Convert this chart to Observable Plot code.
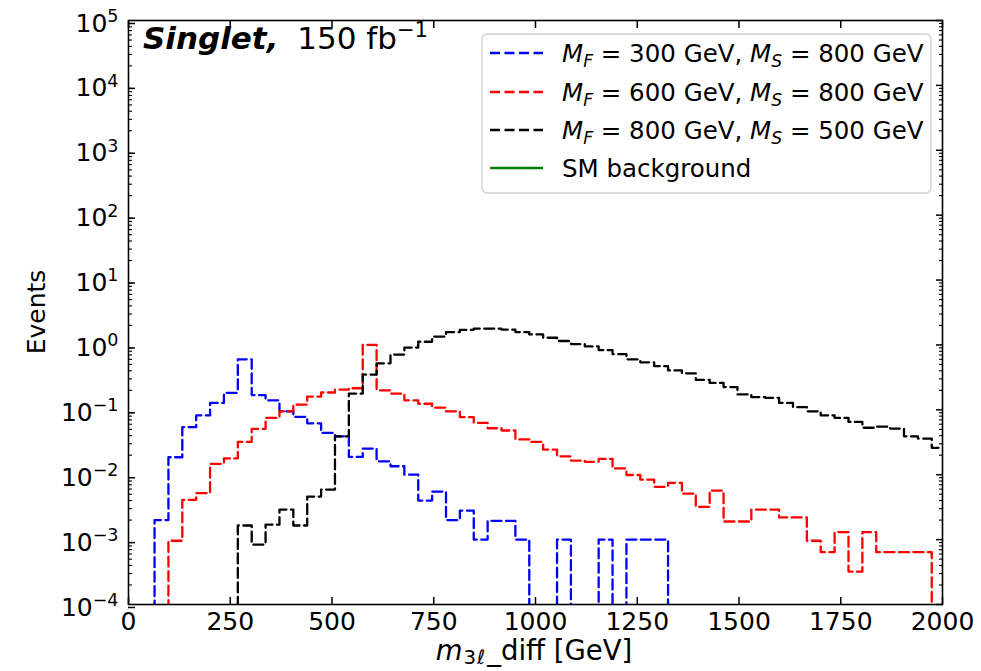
<!DOCTYPE html>
<html><head><meta charset="utf-8">
<script src="https://cdn.jsdelivr.net/npm/d3@7"></script>
<script src="https://cdn.jsdelivr.net/npm/@observablehq/plot@0.6"></script>
<style>
body{margin:0;background:#fff;}
#chart svg{font-family:"DejaVu Sans";}
</style>
</head><body><div id="chart"></div>
<script>
// Histogram binning (GeV)
const binStart = 64;
const binWidth = 34.1;

// Events per bin
const blueValues = [0.0020, 0.0186, 0.054, 0.082, 0.128, 0.183, 0.60, 0.169, 0.140, 0.095,
  0.078, 0.062, 0.044, 0.039, 0.0188, 0.0253, 0.0161, 0.0135, 0.0100, 0.0040,
  0.0055, 0.0020, 0.0028, 0.0010, 0.00195, 0.00195, 0.0010, 0, 0, 0.0010,
  0, 0, 0.0010, 0, 0.0010, 0.0010, 0.0010];
const redValues = [0, 0.00096, 0.0041, 0.0052, 0.0147, 0.0178, 0.032, 0.051, 0.075, 0.095,
  0.12, 0.16, 0.185, 0.205, 0.215, 1.0, 0.20, 0.178, 0.140, 0.124,
  0.108, 0.095, 0.077, 0.063, 0.052, 0.048, 0.035, 0.032, 0.0244, 0.0192,
  0.0165, 0.0158, 0.0175, 0.0125, 0.0099, 0.0084, 0.0065, 0.0075, 0.0051, 0.0032,
  0.0057, 0.0019, 0.0019, 0.0029, 0.0029, 0.0022, 0.0022, 0.00096, 0.00064, 0.0013,
  0.00032, 0.0013, 0.00064, 0.00064, 0.00064, 0.00064];
const blackValues = [0, 0, 0, 0, 0, 0, 0.00165, 0.00084, 0.0017, 0.0029,
  0.00165, 0.0046, 0.0059, 0.039, 0.178, 0.35, 0.52, 0.71, 0.91, 1.12,
  1.34, 1.58, 1.71, 1.78, 1.78, 1.72, 1.58, 1.45, 1.29, 1.15,
  1.03, 0.95, 0.83, 0.72, 0.60, 0.54, 0.47, 0.405, 0.365, 0.29,
  0.26, 0.224, 0.173, 0.157, 0.153, 0.128, 0.110, 0.095, 0.082, 0.075,
  0.065, 0.053, 0.055, 0.0515, 0.039, 0.036, 0.026];

const seriesColors = ["#0000ff", "#ff0000", "#000000", "#008000"];
const legendMF = ["300", "600", "800"];
const legendMS = ["800", "800", "500"];
const legendLast = "SM background";

const xTicks = [0, 250, 500, 750, 1000, 1250, 1500, 1750, 2000];
const yExponents = [-4, -3, -2, -1, 0, 1, 2, 3, 4, 5];

// build step-histogram outlines
function stepPoints(values) {
  const pts = [{x: binStart, y: 0}];
  values.forEach((v, i) => pts.push({x: binStart + i * binWidth, y: v}));
  const end = binStart + values.length * binWidth;
  pts.push({x: end, y: values[values.length - 1]});
  pts.push({x: end, y: 0});
  return pts;
}
const yOf = d => d.y > 0 ? d.y : 1e-7;

const yMajor = yExponents.map(e => Math.pow(10, e));
const yMinor = [];
for (const e of yExponents.slice(0, -1)) for (let m = 2; m <= 9; m++) yMinor.push(m * Math.pow(10, e));

const lineOpts = {x: "x", y: yOf, curve: "step-after", strokeWidth: 2.3, strokeDasharray: "10,4.5", clip: true};
const tickStyle = {stroke: "#000", strokeWidth: 1.5};

const plot = Plot.plot({
  width: 981, height: 671,
  marginLeft: 128, marginRight: 39, marginTop: 20, marginBottom: 67,
  style: {fontFamily: "DejaVu Sans", fontSize: "25px", color: "#000", background: "#fff", overflow: "visible"},
  x: {domain: [0, 2000]},
  y: {type: "log", domain: [1e-4, 1e5]},
  marks: [
    Plot.line(stepPoints(blueValues), {...lineOpts, stroke: seriesColors[0]}),
    Plot.line(stepPoints(redValues), {...lineOpts, stroke: seriesColors[1]}),
    Plot.line(stepPoints(blackValues), {...lineOpts, stroke: seriesColors[2]}),
    Plot.axisX(xTicks, {anchor: "bottom", tickSize: -7, tickPadding: 15, label: null, ...tickStyle, fill: "#000", tickFormat: d => String(d)}),
    Plot.axisX(xTicks, {anchor: "top", tickSize: -7, label: null, ...tickStyle, tickFormat: () => ""}),
    Plot.axisY(yMajor, {anchor: "left", tickSize: -7, tickPadding: 17, label: null, ...tickStyle, fill: "#000", dy: 3,
      tickFormat: d => "10^" + Math.round(Math.log10(d))}),
    Plot.axisY(yMinor, {anchor: "left", tickSize: -4, label: null, stroke: "#000", strokeWidth: 1.1, tickFormat: () => ""}),
    Plot.axisY(yMajor, {anchor: "right", tickSize: -7, label: null, ...tickStyle, tickFormat: () => ""}),
    Plot.axisY(yMinor, {anchor: "right", tickSize: -4, label: null, stroke: "#000", strokeWidth: 1.1, tickFormat: () => ""}),
    Plot.frame({stroke: "#000", strokeWidth: 1.6})
  ]
});
document.getElementById("chart").appendChild(plot);

const svg = d3.select(plot);
// superscript exponents on y tick labels
svg.selectAll('g[aria-label="y-axis tick label"] text').each(function() {
  const t = this.textContent;
  if (!t || t.indexOf("^") < 0) return;
  const exp = t.split("^")[1].replace("-", "\u2212");
  const sel = d3.select(this);
  sel.text("");
  sel.append("tspan").text("10");
  sel.append("tspan").attr("dy", "-0.55em").attr("font-size", "0.7em").text(exp);
});

// axis titles
svg.append("text").attr("transform", "translate(36,312) rotate(-90)")
  .attr("text-anchor", "middle").attr("dy", "0.35em").attr("font-size", 25).attr("fill", "#000").text("Events");
const xl = svg.append("text").attr("x", 534).attr("y", 660).attr("text-anchor", "middle").attr("font-size", 27.5).attr("fill", "#000");
xl.append("tspan").attr("font-style", "italic").text("m");
xl.append("tspan").attr("font-size", "0.72em").attr("dy", "0.2em").attr("dx", 1).text("3");
xl.append("tspan").attr("font-size", "0.72em").attr("font-style", "italic").attr("dx", 1).text("\u2113");
xl.append("tspan").attr("dy", "-0.144em").attr("dx", 2).text("_diff [GeV]");

// in-plot annotation
const ann = svg.append("text").attr("x", 143).attr("y", 49).attr("text-anchor", "start").attr("font-size", 31).attr("fill", "#000");
ann.append("tspan").attr("font-weight", "bold").attr("font-style", "italic").text("Singlet,");
ann.append("tspan").attr("dx", 9).text(" 150 fb");
ann.append("tspan").attr("dy", "-0.55em").attr("font-size", "0.68em").text("\u22121");

// legend
const lg = svg.append("g").attr("text-anchor", "start");
lg.append("rect").attr("x", 482).attr("y", 34).attr("width", 449).attr("height", 159).attr("rx", 5)
  .attr("fill", "#fff").attr("fill-opacity", 0.8).attr("stroke", "#d0d0d0").attr("stroke-width", 1.3);
const rowY = [53, 92, 130, 168];
legendMF.forEach((mf, i) => {
  lg.append("line").attr("x1", 490).attr("x2", 543).attr("y1", rowY[i]).attr("y2", rowY[i])
    .attr("stroke", seriesColors[i]).attr("stroke-width", 2.3).attr("stroke-dasharray", "10,4.5");
  const t = lg.append("text").attr("x", 562).attr("y", rowY[i] + 9).attr("text-anchor", "start").attr("font-size", 24.5).attr("fill", "#000");
  t.append("tspan").attr("font-style", "italic").text("M");
  t.append("tspan").attr("font-style", "italic").attr("font-size", "0.7em").attr("dy", "0.3em").text("F");
  t.append("tspan").attr("dy", "-0.21em").text(" = " + mf + " GeV, ");
  t.append("tspan").attr("font-style", "italic").text("M");
  t.append("tspan").attr("font-style", "italic").attr("font-size", "0.7em").attr("dy", "0.3em").text("S");
  t.append("tspan").attr("dy", "-0.21em").text(" = " + legendMS[i] + " GeV");
});
lg.append("line").attr("x1", 490).attr("x2", 543).attr("y1", rowY[3]).attr("y2", rowY[3])
  .attr("stroke", seriesColors[3]).attr("stroke-width", 2.3);
lg.append("text").attr("x", 562).attr("y", rowY[3] + 9).attr("text-anchor", "start").attr("font-size", 24.5).attr("fill", "#000").text(legendLast);
</script>
</body></html>
